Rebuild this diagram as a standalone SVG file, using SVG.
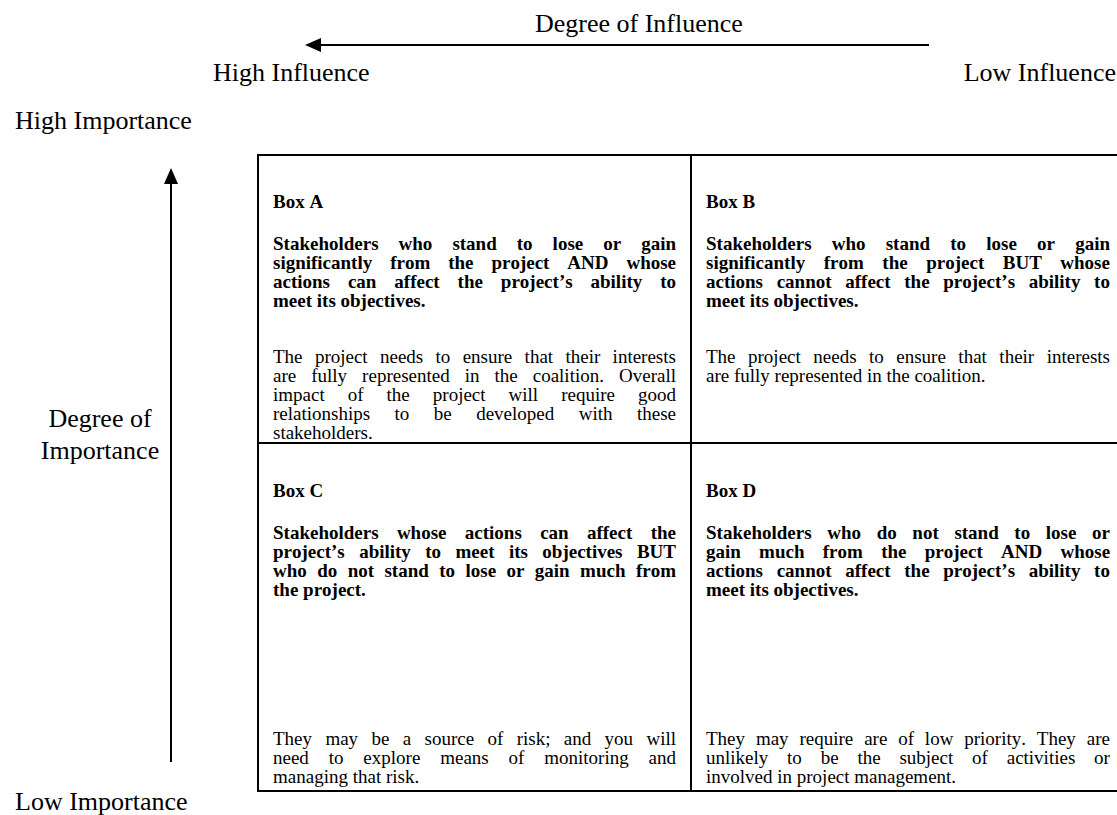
<svg xmlns="http://www.w3.org/2000/svg" width="1117" height="815" viewBox="0 0 1117 815">
  <style>
    text { font-family: "Liberation Serif", "Times New Roman", serif; fill: #000; font-kerning: none; }
    .axis { font-size: 26px; }
    .cell { font-size: 19px; }
    .b { font-weight: bold; }
    .grid { stroke: #000; stroke-width: 2; fill: none; }
    .arrow { stroke: #000; stroke-width: 2; fill: none; marker-end: url(#head); }
  </style>
  <defs>
    <marker id="head" viewBox="0 -7 16 14" markerWidth="16" markerHeight="14" refX="0" refY="0" orient="auto" markerUnits="userSpaceOnUse">
      <path d="M0,-7 L16,0 L0,7 z" fill="#000"/>
    </marker>
  </defs>

  <rect width="1117" height="815" fill="#fff"/>

  <!-- axis labels -->
  <g id="influence-axis">
    <text class="axis" x="535" y="32">Degree of Influence</text>
    <text class="axis" x="213" y="81">High Influence</text>
    <text class="axis" x="1116" y="81" text-anchor="end">Low Influence</text>
  </g>
  <g id="importance-axis">
    <text class="axis" x="15" y="129">High Importance</text>
    <text class="axis" x="100" y="427" text-anchor="middle">Degree of</text>
    <text class="axis" x="100" y="459" text-anchor="middle">Importance</text>
    <text class="axis" x="15" y="810">Low Importance</text>
  </g>

  <!-- connectors -->
  <g id="connectors">
    <line class="arrow" x1="929" y1="45" x2="321" y2="45"/>
    <line class="arrow" x1="171" y1="762" x2="171" y2="184"/>
  </g>

  <!-- matrix frame -->
  <g id="grid">
    <rect class="grid" x="258" y="155" width="866" height="636"/>
    <line class="grid" x1="691" y1="155" x2="691" y2="791"/>
    <line class="grid" x1="258" y1="443" x2="1124" y2="443"/>
  </g>

  <g id="box-a" class="cell">
    <text class="cell b" x="273" y="208">Box A</text>
    <text class="cell b" x="273" y="250" style="word-spacing:15.27px">Stakeholders who stand to lose or gain</text>
    <text class="cell b" x="273" y="269" style="word-spacing:13.17px">significantly from the project AND whose</text>
    <text class="cell b" x="273" y="288" style="word-spacing:13.17px">actions can affect the project’s ability to</text>
    <text class="cell b" x="273" y="307">meet its objectives.</text>
    <text class="cell" x="273" y="363" style="word-spacing:7.59px">The project needs to ensure that their interests</text>
    <text class="cell" x="273" y="382" style="word-spacing:10.27px">are fully represented in the coalition. Overall</text>
    <text class="cell" x="273" y="401" style="word-spacing:18.27px">impact of the project will require good</text>
    <text class="cell" x="273" y="420" style="word-spacing:19.71px">relationships to be developed with these</text>
    <text class="cell" x="273" y="439">stakeholders.</text>
  </g>

  <g id="box-b" class="cell">
    <text class="cell b" x="706" y="208">Box B</text>
    <text class="cell b" x="706" y="250" style="word-spacing:15.43px">Stakeholders who stand to lose or gain</text>
    <text class="cell b" x="706" y="269" style="word-spacing:13.77px">significantly from the project BUT whose</text>
    <text class="cell b" x="706" y="288" style="word-spacing:8.93px">actions cannot affect the project’s ability to</text>
    <text class="cell b" x="706" y="307">meet its objectives.</text>
    <text class="cell" x="706" y="363" style="word-spacing:7.74px">The project needs to ensure that their interests</text>
    <text class="cell" x="706" y="382">are fully represented in the coalition.</text>
  </g>

  <g id="box-c" class="cell">
    <text class="cell b" x="273" y="497">Box C</text>
    <text class="cell b" x="273" y="539" style="word-spacing:13.57px">Stakeholders whose actions can affect the</text>
    <text class="cell b" x="273" y="558" style="word-spacing:9.65px">project’s ability to meet its objectives BUT</text>
    <text class="cell b" x="273" y="577" style="word-spacing:5.66px">who do not stand to lose or gain much from</text>
    <text class="cell b" x="273" y="596">the project.</text>
    <text class="cell" x="273" y="745" style="word-spacing:8.61px">They may be a source of risk; and you will</text>
    <text class="cell" x="273" y="764" style="word-spacing:15.1px">need to explore means of monitoring and</text>
    <text class="cell" x="273" y="783">managing that risk.</text>
  </g>

  <g id="box-d" class="cell">
    <text class="cell b" x="706" y="497">Box D</text>
    <text class="cell b" x="706" y="539" style="word-spacing:10.89px">Stakeholders who do not stand to lose or</text>
    <text class="cell b" x="706" y="558" style="word-spacing:13.52px">gain much from the project AND whose</text>
    <text class="cell b" x="706" y="577" style="word-spacing:8.93px">actions cannot affect the project’s ability to</text>
    <text class="cell b" x="706" y="596">meet its objectives.</text>
    <text class="cell" x="706" y="745" style="word-spacing:6.11px">They may require are of low priority. They are</text>
    <text class="cell" x="706" y="764" style="word-spacing:14.06px">unlikely to be the subject of activities or</text>
    <text class="cell" x="706" y="783">involved in project management.</text>
  </g>
</svg>
